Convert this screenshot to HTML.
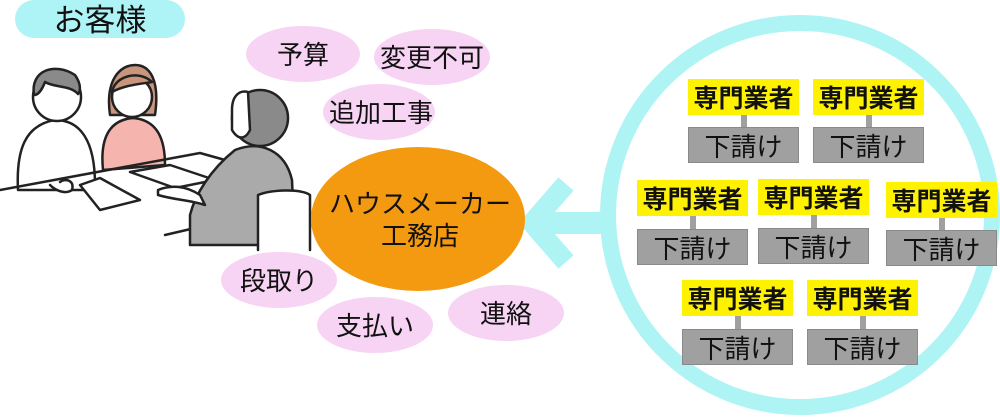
<!DOCTYPE html>
<html><head><meta charset="utf-8"><style>
html,body{margin:0;padding:0;background:#fff;}
body{width:1000px;height:420px;overflow:hidden;position:relative;font-family:"Liberation Sans","Noto Sans CJK JP",sans-serif;}
svg{position:absolute;left:0;top:0;}
.y,.g{position:absolute;width:111px;height:36px;display:flex;align-items:center;justify-content:center;font-size:25px;color:#111;}
.y{background:#fff200;font-weight:bold;}
.g{background:#a0a0a0;border:1px solid #8a8a8a;box-sizing:border-box;font-size:26px;}
.s{position:absolute;width:6px;height:13px;background:#a0a0a0;}
</style></head><body>
<svg width="1000" height="420" viewBox="0 0 1000 420">
  <circle cx="800" cy="215" r="192" fill="none" stroke="#aef4f5" stroke-width="16"/>
  <line x1="530" y1="223" x2="610" y2="223" stroke="#aef4f5" stroke-width="22"/>
  <polyline points="566,184 532,223 566,262" fill="none" stroke="#aef4f5" stroke-width="20"/>
  <rect x="15" y="0" width="170" height="38" rx="19" fill="#aef3f6"/>
  <text x="100" y="31" font-size="31" text-anchor="middle" fill="#111" font-family="Liberation Sans, Noto Sans CJK JP, sans-serif">お客様</text>
  <g stroke="#222" stroke-width="2.5" stroke-linejoin="round" stroke-linecap="round">
    <path d="M18,190 C16,150 25,125 55,120 C80,120 95,140 95,185 L95,190 Z" fill="#fff"/>
    <circle cx="57" cy="97" r="24" fill="#fff"/>
    <path d="M34,95 C30,70 55,62 75,75 C82,85 80,92 78,94 C70,85 55,88 45,82 C42,90 38,95 34,95 Z" fill="#8a8a8a"/>
    <path d="M103,170 C100,140 108,120 133,118 C158,120 165,140 165,165 Z" fill="#f5b5ae"/>
    <path d="M110,115 C105,80 120,65 135,65 C150,65 160,80 155,115 Z" fill="#c9957c"/>
    <circle cx="132" cy="97" r="20" fill="#fff"/>
    <path d="M112,92 C115,75 140,70 152,82 C140,84 125,85 112,92 Z" fill="#c9957c"/>
    <path d="M0,190 L200,153 L225,160" fill="none"/>
    <path d="M80,185 L100,178 L140,200 L100,210 Z" fill="#fff"/>
    <path d="M130,172 L170,165 L215,180 L175,188 Z" fill="#fff"/>
    <path d="M165,235 L195,228" fill="none"/>
    <path d="M50,185 C55,190 65,195 72,190 C75,180 65,178 60,182" fill="#fff"/>
    <path d="M190,245 L190,215 C195,195 210,170 235,150 C260,140 285,150 292,180 L295,245 Z" fill="#aaaaaa"/>
    <path d="M158,190 C170,185 185,185 200,195 L205,205 C190,200 175,200 158,195 Z" fill="#fff"/>
    <circle cx="260" cy="118" r="28" fill="#8a8a8a"/>
    <path d="M232,110 C232,95 240,90 248,92 L250,130 C245,140 238,140 232,130 Z" fill="#fff"/>
    <path d="M258,250 L258,195 C270,190 300,188 310,195 L310,250" fill="#fff"/>
  </g>
  <g fill="#f7d4f4">
    <ellipse cx="303" cy="54" rx="57" ry="28"/>
    <ellipse cx="432" cy="57" rx="58" ry="28"/>
    <ellipse cx="379" cy="112" rx="56" ry="28"/>
    <ellipse cx="279" cy="280" rx="58" ry="28"/>
    <ellipse cx="375" cy="325" rx="58" ry="28"/>
    <ellipse cx="506" cy="313" rx="58" ry="28"/>
  </g>
  <g font-size="26" fill="#111" text-anchor="middle" font-family="Liberation Sans, Noto Sans CJK JP, sans-serif">
    <text x="303" y="64">予算</text>
    <text x="432" y="67">変更不可</text>
    <text x="381" y="122">追加工事</text>
    <text x="279" y="290">段取り</text>
    <text x="375" y="335">支払い</text>
    <text x="506" y="323">連絡</text>
  </g>
  <ellipse cx="418" cy="219" rx="107" ry="72" fill="#f39a10"/>
  <g font-size="26" fill="#111" text-anchor="middle" font-family="Liberation Sans, Noto Sans CJK JP, sans-serif">
    <text x="420" y="213">ハウスメーカー</text>
    <text x="420" y="245">工務店</text>
  </g>
</svg>
<div class="y" style="left:688px;top:79px">専門業者</div><div class="s" style="left:741px;top:115px"></div><div class="g" style="left:688px;top:127px">下請け</div>
<div class="y" style="left:813px;top:79px">専門業者</div><div class="s" style="left:866px;top:115px"></div><div class="g" style="left:813px;top:127px">下請け</div>
<div class="y" style="left:637px;top:180px">専門業者</div><div class="s" style="left:690px;top:216px"></div><div class="g" style="left:637px;top:229px">下請け</div>
<div class="y" style="left:758px;top:179px">専門業者</div><div class="s" style="left:811px;top:215px"></div><div class="g" style="left:758px;top:228px">下請け</div>
<div class="y" style="left:886px;top:182px">専門業者</div><div class="s" style="left:939px;top:218px"></div><div class="g" style="left:886px;top:230px">下請け</div>
<div class="y" style="left:682px;top:280px">専門業者</div><div class="s" style="left:735px;top:316px"></div><div class="g" style="left:682px;top:329px">下請け</div>
<div class="y" style="left:807px;top:280px">専門業者</div><div class="s" style="left:860px;top:316px"></div><div class="g" style="left:807px;top:329px">下請け</div>
</body></html>
